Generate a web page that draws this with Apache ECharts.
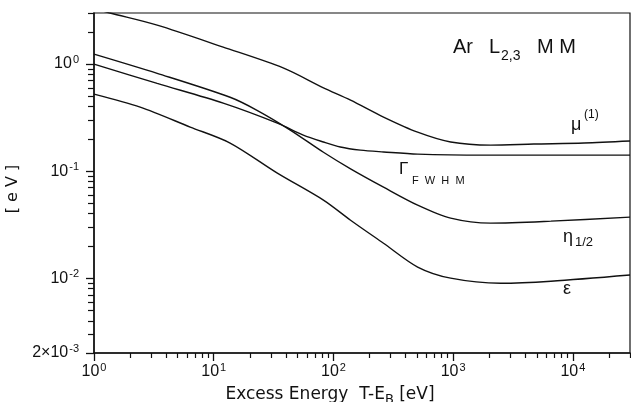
<!DOCTYPE html>
<html>
<head>
<meta charset="utf-8">
<script src="https://cdn.jsdelivr.net/npm/echarts@6/dist/echarts.min.js"></script>
<style>
html, body { margin: 0; padding: 0; background: #fff; }
#chart { width: 631px; height: 402px; }
</style>
</head>
<body>
<div id="chart"></div>
<script>
// excess energy T-E_B [eV] and widths [eV]
const muE = [1, 1.36, 3.37, 12, 38, 82.5, 139, 262, 505, 953, 2060, 4720, 12400, 30000];
const muV = [3.3, 3.0, 2.31, 1.44, 0.92, 0.60, 0.46, 0.32, 0.231, 0.187, 0.175, 0.179, 0.183, 0.191];

const gammaE = [1, 3.37, 12, 34, 56, 82.5, 114, 168, 262, 505, 1800, 30000];
const gammaV = [1.0, 0.66, 0.432, 0.281, 0.217, 0.187, 0.168, 0.157, 0.151, 0.144, 0.141, 0.141];

const etaE = [1, 3.37, 13.7, 23, 43.6, 82.5, 139, 262, 505, 953, 2060, 6550, 30000];
const etaV = [1.24, 0.82, 0.49, 0.37, 0.242, 0.150, 0.105, 0.0708, 0.0481, 0.0364, 0.0327, 0.0341, 0.0372];

const epsE = [1, 2.43, 6.36, 13.7, 34, 82.5, 139, 262, 505, 953, 2500, 6550, 30000];
const epsV = [0.524, 0.396, 0.258, 0.183, 0.0958, 0.0536, 0.0348, 0.0212, 0.0127, 0.0100, 0.00897, 0.00937, 0.0107];

// axis ticks
const xMajor = [1, 10, 100, 1000, 10000];
const yMajor = [0.002, 0.01, 0.1, 1];
const xMinor = [2, 3, 4, 5, 6, 7, 8, 9, 20, 30, 40, 50, 60, 70, 80, 90, 200, 300, 400, 500, 600, 700, 800, 900,
  2000, 3000, 4000, 5000, 6000, 7000, 8000, 9000, 20000, 30000];
const yMinor = [0.003, 0.004, 0.005, 0.006, 0.007, 0.008, 0.009, 0.02, 0.03, 0.04, 0.05, 0.06, 0.07, 0.08, 0.09,
  0.2, 0.3, 0.4, 0.5, 0.6, 0.7, 0.8, 0.9, 2, 3];

const FONT = 'Liberation Sans';
const WIDE = 'DejaVu Sans';
const INK = '#111';

function pair(xs, ys) {
  return xs.map((x, i) => [x, ys[i]]);
}

function powLabel(v) {
  const p = Math.round(Math.log10(v));
  const m = Math.round(v / Math.pow(10, p));
  const base = m === 1 ? '10' : m + '\u00d710';
  return '{b|' + base + '}{s|' + p + '}';
}

const labelRich = {
  b: { fontFamily: FONT, fontSize: 16, color: INK, lineHeight: 20 },
  s: { fontFamily: FONT, fontSize: 11, color: INK, verticalAlign: 'top', lineHeight: 20, padding: [0, 0, 8, 1] }
};

function lineSeries(xs, ys) {
  return {
    type: 'line',
    data: pair(xs, ys),
    smooth: 0.3,
    showSymbol: false,
    symbol: 'none',
    lineStyle: { color: INK, width: 1.4 },
    silent: true
  };
}

function txt(text, left, top, size, family) {
  return {
    type: 'text', left: left, top: top,
    style: { text: text, fontFamily: family || FONT, fontSize: size, fill: INK }
  };
}

var dom = document.getElementById('chart');
var myChart = echarts.init(dom, null, { renderer: 'canvas' });
var option = {
  animation: false,
  backgroundColor: '#fff',
  grid: {
    left: 94, right: 1, top: 13, bottom: 49,
    show: true, borderColor: INK, borderWidth: 1.2,
    outerBoundsMode: 'none'
  },
  xAxis: [
    {
      type: 'log', logBase: 10, min: 1, max: 30000, position: 'bottom',
      axisLine: { lineStyle: { color: INK, width: 1.5 } },
      axisTick: { customValues: xMajor, length: 8, lineStyle: { color: INK, width: 1.3 } },
      axisLabel: { customValues: xMajor, formatter: powLabel, rich: labelRich, margin: 9 },
      splitLine: { show: false },
      name: 'Excess Energy  T-E{sub|B} [eV]',
      nameLocation: 'middle', nameGap: 31,
      nameTextStyle: {
        fontFamily: WIDE, fontSize: 17, color: INK, padding: [0, 64, 0, 0],
        rich: { sub: { fontFamily: WIDE, fontSize: 13, color: INK, padding: [9, 0, 0, 0] } }
      }
    },
    {
      type: 'log', logBase: 10, min: 1, max: 30000, position: 'bottom',
      axisLine: { show: false },
      axisTick: { customValues: xMinor, length: 5, lineStyle: { color: INK, width: 1.2 } },
      axisLabel: { show: false },
      splitLine: { show: false }
    }
  ],
  yAxis: [
    {
      type: 'log', logBase: 10, min: 0.002, max: 3, position: 'left',
      axisLine: { lineStyle: { color: INK, width: 1.5 } },
      axisTick: { customValues: yMajor, length: 8, lineStyle: { color: INK, width: 1.3 } },
      axisLabel: { customValues: yMajor, formatter: powLabel, rich: labelRich, margin: 15 },
      splitLine: { show: false },
      name: '[ e V ]',
      nameLocation: 'middle', nameGap: 72, nameRotate: 90,
      nameTextStyle: { fontFamily: WIDE, fontSize: 16, color: INK, padding: [0, 12, 0, 0] }
    },
    {
      type: 'log', logBase: 10, min: 0.002, max: 3, position: 'left',
      axisLine: { show: false },
      axisTick: { customValues: yMinor, length: 6, lineStyle: { color: INK, width: 1.2 } },
      axisLabel: { show: false },
      splitLine: { show: false }
    }
  ],
  series: [
    lineSeries(muE, muV),
    lineSeries(gammaE, gammaV),
    lineSeries(etaE, etaV),
    lineSeries(epsE, epsV)
  ],
  graphic: [
    txt('Ar', 453, 37, 20),
    txt('L', 489, 37, 20),
    txt('2,3', 501, 49, 14),
    txt('M M', 537, 37, 20),
    txt('\u03bc', 571, 116, 18),
    txt('(1)', 584, 109, 12),
    txt('\u0393', 399, 161, 17),
    txt('F  W  H  M', 412, 175, 11),
    txt('\u03b7', 563, 228, 18),
    txt('1/2', 575, 236, 13),
    txt('\u03b5', 563, 280, 18)
  ]
};
myChart.setOption(option);
window.addEventListener('resize', myChart.resize);
</script>
</body>
</html>
